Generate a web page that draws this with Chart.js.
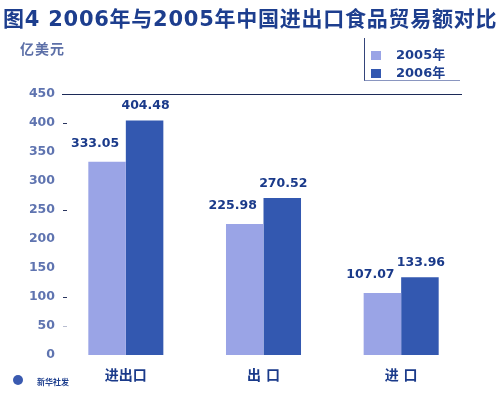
<!DOCTYPE html>
<html>
<head>
<meta charset="utf-8">
<script src="https://cdn.jsdelivr.net/npm/chart.js@4/dist/chart.umd.min.js"></script>
<style>
  body { margin:0; background:#fff; }
  #wrap { position:relative; width:500px; height:394px; overflow:hidden; font-family:"DejaVu Sans","Noto Sans CJK SC",sans-serif; font-weight:bold; }
  #title { position:absolute; left:3px; top:2px; font-size:21px; letter-spacing:0.75px; color:#1d3e8e; white-space:nowrap; }
  #unit { position:absolute; left:20px; top:38px; font-size:14px; letter-spacing:1px; color:#5d70a8; }
  #legend { position:absolute; left:364px; top:38px; width:95px; height:42px; border-left:1px solid #34447a; border-bottom:1px solid #8a96c0; }
  .li { position:absolute; left:6px; font-size:13px; color:#1d3e8e; }
  .sw { display:inline-block; width:10px; height:9px; margin-right:15px; vertical-align:-1px; }
  #foot { position:absolute; left:37px; top:376px; font-size:8px; color:#1d3e8e; }
  #logo { position:absolute; left:13px; top:375px; width:10px; height:10px; border-radius:50%; background:#3a5ab0; }
  canvas { position:absolute; left:0; top:0; }
</style>
</head>
<body>
<div id="wrap">
  <canvas id="myChart" width="500" height="394"></canvas>
  <div id="title">图4 2006年与2005年中国进出口食品贸易额对比</div>
  <div id="unit">亿美元</div>
  <div id="legend">
    <div class="li" style="top:6px"><span class="sw" style="background:#9aa4e6"></span>2005年</div>
    <div class="li" style="top:24px"><span class="sw" style="background:#3358b0"></span>2006年</div>
  </div>
  <div id="logo"></div>
  <div id="foot">新华社发</div>
</div>
<script>
var categories = ['进出口', '出 口', '进 口'];
var values2005 = [333.05, 225.98, 107.07];
var values2006 = [404.48, 270.52, 133.96];
var yTicks = [0, 50, 100, 150, 200, 250, 300, 350, 400, 450];
var markedTicks = [400, 250, 100, 50];

var FONT = '"DejaVu Sans","Noto Sans CJK SC",sans-serif';

// top rule at 450 and the small tick dashes
var axisMarks = {
  id: 'axisMarks',
  beforeDatasetsDraw: function(chart) {
    var c = chart.ctx, y = chart.scales.y;
    c.save();
    c.strokeStyle = '#1c2a58';
    c.lineWidth = 1;
    var top = Math.round(y.getPixelForValue(450)) + 0.5;
    c.beginPath(); c.moveTo(62, top); c.lineTo(462, top); c.stroke();
    markedTicks.forEach(function(v) {
      var py = Math.round(y.getPixelForValue(v)) + 0.5;
      c.strokeStyle = v === 50 ? '#b8bdd0' : '#2a3560';
      c.beginPath(); c.moveTo(63, py); c.lineTo(67, py); c.stroke();
    });
    c.restore();
  }
};

// value labels above the bars
var valueLabels = {
  id: 'valueLabels',
  afterDatasetsDraw: function(chart) {
    var c = chart.ctx;
    c.save();
    c.font = 'bold 12.5px ' + FONT;
    c.fillStyle = '#1a3a8a';
    c.textAlign = 'center';
    c.textBaseline = 'bottom';
    chart.data.datasets.forEach(function(ds, i) {
      var meta = chart.getDatasetMeta(i);
      meta.data.forEach(function(bar, j) {
        var dx = i === 0 ? -12 : 1;
        var dy = i === 0 ? 12 : 8;
        c.fillText(ds.data[j].toFixed(2), bar.x + dx, bar.y - dy);
      });
    });
    c.restore();
  }
};

var ctx = document.getElementById('myChart');
var config = {
  type: 'bar',
  data: {
    labels: categories,
    datasets: [
      { label: '2005年', data: values2005, backgroundColor: '#9aa4e6' },
      { label: '2006年', data: values2006, backgroundColor: '#3358b0' }
    ]
  },
  options: {
    responsive: false,
    animation: false,
    layout: { padding: { top: 94, right: 30, left: 0, bottom: 0 } },
    plugins: { legend: { display: false }, tooltip: { enabled: false } },
    datasets: { bar: { categoryPercentage: 0.545, barPercentage: 1.0 } },
    scales: {
      x: {
        grid: { display: false, drawTicks: false },
        border: { display: false },
        ticks: { color: '#1a3a8a', font: { family: FONT, size: 14, weight: 'bold' }, padding: 13 },
        afterFit: function(s) { s.height = 39; }
      },
      y: {
        min: 0, max: 450,
        afterBuildTicks: function(s) { s.ticks = yTicks.map(function(v) { return { value: v }; }); },
        grid: { display: false, drawTicks: false },
        border: { display: false },
        ticks: { color: '#5f74b0', font: { family: FONT, size: 12.5, weight: 'bold' }, padding: 2 },
        afterFit: function(s) { s.width = 57; }
      }
    }
  },
  plugins: [axisMarks, valueLabels]
};
var myChart = new Chart(ctx, config);
</script>
</body>
</html>
